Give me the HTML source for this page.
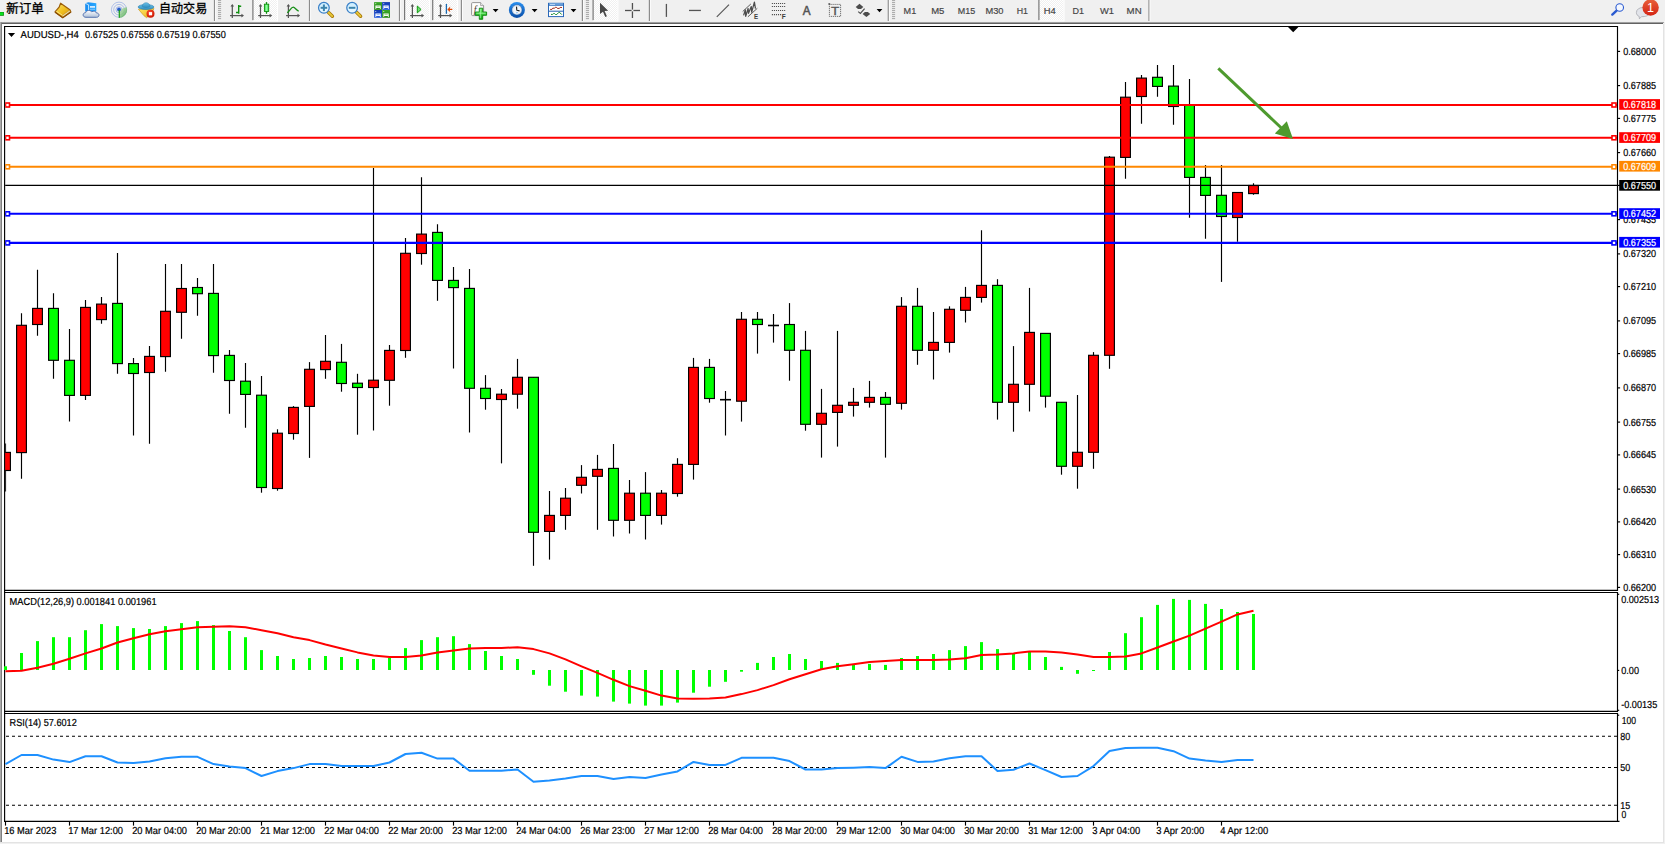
<!DOCTYPE html>
<html lang="zh"><head><meta charset="utf-8"><title>AUDUSD H4</title>
<style>html,body{margin:0;padding:0;background:#f0f0f0;overflow:hidden}svg text{white-space:pre}</style></head>
<body>
<svg width="1665" height="844" viewBox="0 0 1665 844" font-family="Liberation Sans, sans-serif" style="display:block">
<defs>
<linearGradient id="gGold" x1="0" y1="0" x2="1" y2="1"><stop offset="0" stop-color="#fbe36a"/><stop offset="0.5" stop-color="#f0c020"/><stop offset="1" stop-color="#d08a10"/></linearGradient>
<linearGradient id="gCloud" x1="0" y1="0" x2="0" y2="1"><stop offset="0" stop-color="#ffffff"/><stop offset="1" stop-color="#aebfd8"/></linearGradient>
<linearGradient id="gBox" x1="0" y1="0" x2="1" y2="0"><stop offset="0" stop-color="#1a8cf0"/><stop offset="1" stop-color="#28a8ff"/></linearGradient>
<linearGradient id="gHat" x1="0" y1="0" x2="0" y2="1"><stop offset="0" stop-color="#6cc0e8"/><stop offset="1" stop-color="#2f8fc0"/></linearGradient>
<linearGradient id="gFace" x1="0" y1="0" x2="1" y2="1"><stop offset="0" stop-color="#ffe860"/><stop offset="1" stop-color="#e8b020"/></linearGradient>
<radialGradient id="gRed" cx="0.4" cy="0.35" r="0.7"><stop offset="0" stop-color="#ff5030"/><stop offset="1" stop-color="#c81400"/></radialGradient>
<linearGradient id="gBadge" x1="0" y1="0" x2="0" y2="1"><stop offset="0" stop-color="#e8603a"/><stop offset="1" stop-color="#d42414"/></linearGradient>
<linearGradient id="gLens" x1="0" y1="0" x2="0" y2="1"><stop offset="0" stop-color="#c8ecff"/><stop offset="1" stop-color="#eefaff"/></linearGradient>
<linearGradient id="gClock" x1="0" y1="0" x2="0" y2="1"><stop offset="0" stop-color="#2a90f0"/><stop offset="1" stop-color="#0a4ea8"/></linearGradient>
<linearGradient id="gCandle" x1="0" y1="0" x2="1" y2="0"><stop offset="0" stop-color="#30d840"/><stop offset="0.5" stop-color="#90ffa0"/><stop offset="1" stop-color="#30d840"/></linearGradient>
<linearGradient id="gPlus" x1="0" y1="0" x2="0" y2="1"><stop offset="0" stop-color="#70f070"/><stop offset="1" stop-color="#10a810"/></linearGradient>
<linearGradient id="gSig" x1="0" y1="0" x2="1" y2="1"><stop offset="0" stop-color="#d8ecd0"/><stop offset="1" stop-color="#30a030"/></linearGradient>
<linearGradient id="gTpl" x1="0" y1="0" x2="0" y2="1"><stop offset="0" stop-color="#8cc0f0"/><stop offset="1" stop-color="#2a68b8"/></linearGradient>
<linearGradient id="gGreenT" x1="0" y1="0" x2="0" y2="1"><stop offset="0" stop-color="#3aa828"/><stop offset="1" stop-color="#2a8a18"/></linearGradient>
<linearGradient id="gBlueT" x1="0" y1="0" x2="0" y2="1"><stop offset="0" stop-color="#1038b0"/><stop offset="1" stop-color="#2a60e0"/></linearGradient>
<pattern id="chk" width="2" height="2" patternUnits="userSpaceOnUse"><rect width="2" height="2" fill="#f0f0f0"/><rect width="1" height="1" fill="#fff"/><rect x="1" y="1" width="1" height="1" fill="#fff"/></pattern>
</defs>
<rect width="1665" height="844" fill="#f0f0f0"/>
<rect x="2" y="24" width="1661" height="818" fill="#fff"/>
<rect x="0" y="20.9" width="1665" height="1" fill="#f9f9f9"/>
<rect x="0" y="21.9" width="1664" height="1.1" fill="#a6a6a6"/>
<rect x="0" y="22.9" width="1663" height="1.1" fill="#626262"/>
<rect x="0" y="22" width="1.05" height="820.4" fill="#aaaaaa"/>
<rect x="1.05" y="22.6" width="0.95" height="819.6" fill="#7a7a7a"/>
<rect x="0" y="842.4" width="2" height="1.6" fill="#f0f0f0"/>
<rect x="1663" y="24" width="1" height="819" fill="#e3e3e3"/>
<rect x="2" y="842" width="1662" height="1" fill="#e3e3e3"/>
<rect x="-1" y="12" width="4.9" height="3.8" fill="#0a8a0a"/><rect x="-1" y="12.4" width="4.2" height="2.7" fill="#08e020"/>
<text x="6.3" y="13.3" font-size="12.3" fill="#000" stroke="#000" stroke-width="0.3" font-family="Liberation Sans, Noto Sans CJK SC, sans-serif" textLength="37.6" lengthAdjust="spacingAndGlyphs">新订单</text>
<path d="M60.6 3.2 L69.9 9.7 L70.9 11.9 L62.7 17.7 L55 11.9 L59.1 7.2 Z" fill="url(#gGold)" stroke="#9c5e08" stroke-width="1.2" stroke-linejoin="round"/>
<path d="M62.9 16.9 L70.3 11.6 L69.6 10.3 L62.3 15.4 Z" fill="#efe2b0" stroke="#b07818" stroke-width="0.4"/>
<path d="M56.4 11.3 L62.6 15.3" stroke="#fff0a0" stroke-width="0.9" fill="none" opacity="0.8"/><path d="M55.2 12.2 L62.7 17.6 L70.8 12" stroke="#8a4c04" stroke-width="1.1" fill="none"/>
<path d="M85.2 3.3 L88.3 2.2 L96.3 3.2 L96.3 11.5 L85.2 11.5 Z" fill="url(#gBox)"/>
<path d="M85.2 3.3 L88.6 4.8 L88.6 11.5" fill="none" stroke="#d8f0ff" stroke-width="0.9"/>
<rect x="90" y="6.1" width="5" height="1.6" fill="#e8f6ff"/><rect x="90" y="8.8" width="5" height="0.8" fill="#9cd4ff"/>
<path d="M86 17.3 C82.2 17.3 82.2 12.8 85.7 12.6 C86.2 10.2 90.2 9.6 91.6 11.8 C93.4 10.6 96.2 11.2 96.4 13 C99.8 12.8 99.8 17.3 96.6 17.3 Z" fill="url(#gCloud)" stroke="#4a68a8" stroke-width="0.9"/>
<g fill="none" stroke="#3a6ad8"><circle cx="119" cy="9.7" r="7.6" stroke-width="0.9" opacity="0.4"/><circle cx="119" cy="9.7" r="5.3" stroke-width="0.9" opacity="0.4"/><circle cx="119" cy="9.7" r="3" stroke-width="0.9" opacity="0.45"/></g>
<path d="M119 9.7 L119 17.8 A8.1 8.1 0 0 0 126.6 6.9 Z" fill="url(#gSig)" opacity="0.8"/>
<circle cx="119" cy="9.5" r="1.9" fill="#2858d0"/><rect x="118.7" y="9.8" width="1.2" height="8" fill="#18a018"/>
<path d="M138.4 9.2 L154 8.6 L151 14 L146.6 17.7 L144 15.8 Z" fill="url(#gFace)" stroke="#c89010" stroke-width="0.6"/>
<ellipse cx="146" cy="7" rx="7.9" ry="2.5" fill="url(#gHat)" stroke="#2a80b0" stroke-width="0.6"/>
<path d="M142.2 6.6 C142.4 1.4 149.8 1.4 150 6.6 C148 7.8 144.2 7.8 142.2 6.6 Z" fill="url(#gHat)" stroke="#2a80b0" stroke-width="0.5"/>
<circle cx="150.5" cy="13.7" r="4" fill="url(#gRed)"/><rect x="148.9" y="12.1" width="3.2" height="3.2" fill="#fff"/>
<text x="159" y="13.3" font-size="12.3" fill="#000" stroke="#000" stroke-width="0.3" font-family="Liberation Sans, Noto Sans CJK SC, sans-serif" textLength="48.2" lengthAdjust="spacingAndGlyphs">自动交易</text>
<rect x="213.9" y="0" width="1.2" height="21" fill="#8c8c8c"/>
<rect x="215.1" y="0" width="1" height="21" fill="#fbfbfb"/>
<rect x="218.0" y="0.1" width="3.1" height="1" fill="#a6a6a6"/>
<rect x="218.0" y="2.1" width="3.1" height="1" fill="#a6a6a6"/>
<rect x="218.0" y="4.1" width="3.1" height="1" fill="#a6a6a6"/>
<rect x="218.0" y="6.1" width="3.1" height="1" fill="#a6a6a6"/>
<rect x="218.0" y="8.1" width="3.1" height="1" fill="#a6a6a6"/>
<rect x="218.0" y="10.1" width="3.1" height="1" fill="#a6a6a6"/>
<rect x="218.0" y="12.1" width="3.1" height="1" fill="#a6a6a6"/>
<rect x="218.0" y="14.1" width="3.1" height="1" fill="#a6a6a6"/>
<rect x="218.0" y="16.1" width="3.1" height="1" fill="#a6a6a6"/>
<rect x="218.0" y="18.1" width="3.1" height="1" fill="#a6a6a6"/>
<g stroke="#555" stroke-width="1.25" fill="none"><line x1="232.3" y1="5" x2="232.3" y2="18"/><line x1="230.0" y1="15.6" x2="242.9" y2="15.6"/></g>
<path d="M232.3 3.9 L234.10000000000002 6.5 L230.5 6.5 Z M244.0 15.6 L241.4 13.8 L241.4 17.4 Z" fill="#555"/>
<path d="M238.7 5.1 V13.8 M236 12.5 H238.7 M238.7 6.3 H241.2" stroke="#109010" stroke-width="1.4" fill="none"/>
<rect x="253.2" y="0" width="23.80000000000001" height="20.4" fill="url(#chk)"/>
<rect x="252.29999999999998" y="0" width="1.2" height="20.4" fill="#787878"/>
<rect x="252.29999999999998" y="20.4" width="25.600000000000012" height="1" fill="#fff"/>
<rect x="277" y="0" width="1" height="21" fill="#fff"/>
<g stroke="#555" stroke-width="1.25" fill="none"><line x1="260.5" y1="5" x2="260.5" y2="18"/><line x1="258.2" y1="15.6" x2="271.1" y2="15.6"/></g>
<path d="M260.5 3.9 L262.3 6.5 L258.7 6.5 Z M272.2 15.6 L269.6 13.8 L269.6 17.4 Z" fill="#555"/>
<line x1="266.5" y1="2.1" x2="266.5" y2="13.8" stroke="#109010" stroke-width="1.3"/>
<rect x="264.4" y="4.2" width="4.3" height="7.3" fill="url(#gCandle)" stroke="#109010" stroke-width="0.9"/>
<g stroke="#555" stroke-width="1.25" fill="none"><line x1="288.4" y1="5" x2="288.4" y2="18"/><line x1="286.09999999999997" y1="15.6" x2="299.0" y2="15.6"/></g>
<path d="M288.4 3.9 L290.2 6.5 L286.59999999999997 6.5 Z M300.09999999999997 15.6 L297.5 13.8 L297.5 17.4 Z" fill="#555"/>
<path d="M287.2 12.7 C290 11 291 7.2 293.2 7.2 C295 7.2 296.4 10.4 298.7 11.1" stroke="#189018" stroke-width="1.3" fill="none"/>
<rect x="308.9" y="0" width="1.2" height="21" fill="#8c8c8c"/>
<rect x="310.1" y="0" width="1" height="21" fill="#fbfbfb"/>
<line x1="328.29999999999995" y1="12.2" x2="332.4" y2="16.3" stroke="#a87808" stroke-width="3.4" stroke-linecap="round"/>
<line x1="328.5" y1="12.4" x2="332.2" y2="16.1" stroke="#e8c838" stroke-width="2" stroke-linecap="round"/>
<circle cx="323.9" cy="7.8" r="5.35" fill="url(#gLens)" stroke="#3a80c8" stroke-width="1.25"/>
<rect x="320.59999999999997" y="6.8" width="6.6" height="2" fill="#3c84ac"/>
<rect x="322.9" y="4.5" width="2" height="6.6" fill="#3c84ac"/>
<line x1="356.5" y1="12.2" x2="360.6" y2="16.3" stroke="#a87808" stroke-width="3.4" stroke-linecap="round"/>
<line x1="356.70000000000005" y1="12.4" x2="360.40000000000003" y2="16.1" stroke="#e8c838" stroke-width="2" stroke-linecap="round"/>
<circle cx="352.1" cy="7.8" r="5.35" fill="url(#gLens)" stroke="#3a80c8" stroke-width="1.25"/>
<rect x="348.8" y="6.8" width="6.6" height="2" fill="#3c84ac"/>
<rect x="374.1" y="2.1" width="7.9" height="7.8" fill="url(#gGreenT)"/>
<path d="M375.40000000000003 5.5 H380.70000000000005 V9.0 H379.90000000000003 V8.1 H376.20000000000005 V9.0 H375.40000000000003 Z" fill="#fff"/>
<rect x="376.5" y="6.4" width="3.2" height="0.8" fill="#8cd070"/>
<rect x="375.3" y="3.2" width="0.9" height="0.9" fill="#fff" opacity="0.9"/>
<rect x="382.1" y="2.1" width="7.9" height="7.8" fill="url(#gBlueT)"/>
<path d="M383.40000000000003 5.5 H388.70000000000005 V9.0 H387.90000000000003 V8.1 H384.20000000000005 V9.0 H383.40000000000003 Z" fill="#fff"/>
<rect x="384.5" y="6.4" width="3.2" height="0.8" fill="#88a8f0"/>
<rect x="383.3" y="3.2" width="0.9" height="0.9" fill="#fff" opacity="0.9"/>
<rect x="374.1" y="10" width="7.9" height="7.8" fill="url(#gBlueT)"/>
<path d="M375.40000000000003 13.4 H380.70000000000005 V16.9 H379.90000000000003 V16 H376.20000000000005 V16.9 H375.40000000000003 Z" fill="#fff"/>
<rect x="376.5" y="14.3" width="3.2" height="0.8" fill="#88a8f0"/>
<rect x="375.3" y="11.1" width="0.9" height="0.9" fill="#fff" opacity="0.9"/>
<rect x="382.1" y="10" width="7.9" height="7.8" fill="url(#gGreenT)"/>
<path d="M383.40000000000003 13.4 H388.70000000000005 V16.9 H387.90000000000003 V16 H384.20000000000005 V16.9 H383.40000000000003 Z" fill="#fff"/>
<rect x="384.5" y="14.3" width="3.2" height="0.8" fill="#8cd070"/>
<rect x="383.3" y="11.1" width="0.9" height="0.9" fill="#fff" opacity="0.9"/>
<rect x="398.9" y="0" width="1.2" height="21" fill="#8c8c8c"/>
<rect x="400.1" y="0" width="1" height="21" fill="#fbfbfb"/>
<rect x="404.9" y="0" width="24.100000000000023" height="20.4" fill="url(#chk)"/>
<rect x="404.0" y="0" width="1.2" height="20.4" fill="#787878"/>
<rect x="404.0" y="20.4" width="25.900000000000023" height="1" fill="#fff"/>
<rect x="429" y="0" width="1" height="21" fill="#fff"/>
<g stroke="#555" stroke-width="1.25" fill="none"><line x1="412.4" y1="5" x2="412.4" y2="18"/><line x1="410.09999999999997" y1="15.6" x2="423.0" y2="15.6"/></g>
<path d="M412.4 3.9 L414.2 6.5 L410.59999999999997 6.5 Z M424.09999999999997 15.6 L421.5 13.8 L421.5 17.4 Z" fill="#555"/>
<path d="M417.3 6 L417.3 12.9 L421.1 9.5 Z" fill="#70e070" stroke="#109810" stroke-width="1"/>
<rect x="433" y="0" width="24" height="20.4" fill="url(#chk)"/>
<rect x="432.1" y="0" width="1.2" height="20.4" fill="#787878"/>
<rect x="432.1" y="20.4" width="25.8" height="1" fill="#fff"/>
<rect x="457" y="0" width="1" height="21" fill="#fff"/>
<g stroke="#555" stroke-width="1.25" fill="none"><line x1="440.5" y1="5" x2="440.5" y2="18"/><line x1="438.2" y1="15.6" x2="451.1" y2="15.6"/></g>
<path d="M440.5 3.9 L442.3 6.5 L438.7 6.5 Z M452.2 15.6 L449.6 13.8 L449.6 17.4 Z" fill="#555"/>
<line x1="446.4" y1="3.9" x2="446.4" y2="13.8" stroke="#1a6ab0" stroke-width="1.3"/>
<path d="M447.3 9.4 L450.3 6.6 L449.8 8.8 L452.3 8.8 L452.3 10 L449.8 10 L450.3 12.2 Z" fill="#e04800"/>
<rect x="460.8" y="0" width="1.2" height="21" fill="#8c8c8c"/>
<rect x="462.0" y="0" width="1" height="21" fill="#fbfbfb"/>
<path d="M472.6 2.6 H480.6 L483.6 5.6 V14.6 Q483.6 15.6 482.6 15.6 H472.6 Q471.6 15.6 471.6 14.6 V3.6 Q471.6 2.6 472.6 2.6 Z" fill="#fdfdfd" stroke="#8a8a8a" stroke-width="0.9"/>
<path d="M480.6 2.6 V5.6 H483.6" fill="#e8e8e8" stroke="#8a8a8a" stroke-width="0.7"/>
<text x="473.8" y="13" font-size="10" font-style="italic" fill="#4a4030" font-family="Liberation Serif, serif">f</text>
<path d="M479.3 8.2 H482.7 V12 H486.6 V15.3 H482.7 V19.3 H479.3 V15.3 H475.3 V12 H479.3 Z" fill="url(#gPlus)" stroke="#0a860a" stroke-width="0.9"/><path d="M480.3 9.2 V18.2 M476.4 13.2 H485.6" stroke="#b8ffb8" stroke-width="0.9" opacity="0.75" fill="none"/>
<path d="M492.70000000000005 9 L498.5 9 L495.6 12.3 Z" fill="#000"/>
<circle cx="516.9" cy="9.9" r="8" fill="url(#gClock)"/><circle cx="516.9" cy="9.9" r="5.1" fill="#f2f6fb" stroke="#0c4a98" stroke-width="0.5"/>
<circle cx="516.90" cy="5.80" r="0.33" fill="#8c9cb0"/>
<circle cx="518.95" cy="6.35" r="0.33" fill="#8c9cb0"/>
<circle cx="520.45" cy="7.85" r="0.33" fill="#8c9cb0"/>
<circle cx="521.00" cy="9.90" r="0.33" fill="#8c9cb0"/>
<circle cx="520.45" cy="11.95" r="0.33" fill="#8c9cb0"/>
<circle cx="518.95" cy="13.45" r="0.33" fill="#8c9cb0"/>
<circle cx="516.90" cy="14.00" r="0.33" fill="#8c9cb0"/>
<circle cx="514.85" cy="13.45" r="0.33" fill="#8c9cb0"/>
<circle cx="513.35" cy="11.95" r="0.33" fill="#8c9cb0"/>
<circle cx="512.80" cy="9.90" r="0.33" fill="#8c9cb0"/>
<circle cx="513.35" cy="7.85" r="0.33" fill="#8c9cb0"/>
<circle cx="514.85" cy="6.35" r="0.33" fill="#8c9cb0"/>
<path d="M516.5 6.6 L516.8 10.3 L519.6 10.9" stroke="#202020" stroke-width="1.15" fill="none" stroke-linejoin="round"/>
<rect x="515.9" y="12.4" width="2" height="0.8" fill="#6ab0f0"/>
<path d="M531.7 9 L537.5 9 L534.6 12.3 Z" fill="#000"/>
<rect x="548.5" y="3.3" width="15" height="13.3" fill="#fff" stroke="#2a68b8" stroke-width="1"/>
<rect x="549" y="3.6" width="14" height="2.2" fill="url(#gTpl)"/><rect x="550" y="4" width="5" height="0.7" fill="#d8ecff"/>
<line x1="549" y1="11.2" x2="563" y2="11.2" stroke="#2460b0" stroke-width="1"/>
<path d="M550.2 9.4 H551.9 L552.8 8.2 H554.4 L555.3 7.4 H556.6 L557.4 8.4 H559.2 L560.2 7.5 H561.9" stroke="#a02010" stroke-width="1" fill="none"/>
<path d="M551 14.4 H552.6 L553.5 13.6 H554.6 L555.5 14.5 H556.8 L558.8 12.4 H559.6 L561.8 14.6" stroke="#108828" stroke-width="1" fill="none"/>
<path d="M570.6 9 L576.4 9 L573.5 12.3 Z" fill="#000"/>
<rect x="581.8" y="0" width="1.2" height="21" fill="#8c8c8c"/>
<rect x="583.0" y="0" width="1" height="21" fill="#fbfbfb"/>
<rect x="585.9" y="0.1" width="3.1" height="1" fill="#a6a6a6"/>
<rect x="585.9" y="2.1" width="3.1" height="1" fill="#a6a6a6"/>
<rect x="585.9" y="4.1" width="3.1" height="1" fill="#a6a6a6"/>
<rect x="585.9" y="6.1" width="3.1" height="1" fill="#a6a6a6"/>
<rect x="585.9" y="8.1" width="3.1" height="1" fill="#a6a6a6"/>
<rect x="585.9" y="10.1" width="3.1" height="1" fill="#a6a6a6"/>
<rect x="585.9" y="12.1" width="3.1" height="1" fill="#a6a6a6"/>
<rect x="585.9" y="14.1" width="3.1" height="1" fill="#a6a6a6"/>
<rect x="585.9" y="16.1" width="3.1" height="1" fill="#a6a6a6"/>
<rect x="585.9" y="18.1" width="3.1" height="1" fill="#a6a6a6"/>
<rect x="593.4" y="0" width="24.0" height="20.4" fill="url(#chk)"/>
<rect x="592.5" y="0" width="1.2" height="20.4" fill="#787878"/>
<rect x="592.5" y="20.4" width="25.8" height="1" fill="#fff"/>
<rect x="617.4" y="0" width="1" height="21" fill="#fff"/>
<path d="M600 2.7 L600 14.1 L603 11.7 L605.3 17.1 L606.9 16.3 L604.6 10.9 L608.2 10.8 Z" fill="#484848"/>
<g stroke="#505050" stroke-width="1.3"><line x1="625" y1="10.5" x2="631.6" y2="10.5"/><line x1="633.4" y1="10.5" x2="640" y2="10.5"/><line x1="632.45" y1="3" x2="632.45" y2="9.6"/><line x1="632.45" y1="11.4" x2="632.45" y2="18"/></g>
<rect x="648.8" y="0" width="1.2" height="21" fill="#8c8c8c"/>
<rect x="650.0" y="0" width="1" height="21" fill="#fbfbfb"/>
<line x1="666.4" y1="3.9" x2="666.4" y2="16.9" stroke="#555" stroke-width="1.3"/>
<line x1="689" y1="10.45" x2="700.9" y2="10.45" stroke="#555" stroke-width="1.3"/>
<line x1="716.8" y1="16.9" x2="729" y2="4.7" stroke="#555" stroke-width="1.15"/>
<g stroke="#4c4c4c" fill="none"><line x1="742.7" y1="11.5" x2="750.8" y2="4" stroke-width="0.9"/><line x1="747.9" y1="16.8" x2="757.3" y2="8.3" stroke-width="0.9"/><path d="M743.6 15.4 L745.3 9.9 L745.7 16.3 L748.1 8.5 L748.5 13.3 L751.3 6.6 L751.7 12.2 L754.4 2.2 L755.5 8.6" stroke-width="1.25" stroke-linejoin="round"/></g>
<text x="753.9" y="18.7" font-size="6.4" font-weight="bold" fill="#3c3c3c" textLength="4.1" lengthAdjust="spacingAndGlyphs">E</text>
<line x1="771.85" y1="3.5" x2="785.3" y2="3.5" stroke="#4c4c4c" stroke-width="1.1" stroke-dasharray="1.1 0.94"/>
<line x1="771.85" y1="6.5" x2="785.3" y2="6.5" stroke="#4c4c4c" stroke-width="1.1" stroke-dasharray="1.1 0.94"/>
<line x1="771.85" y1="10.5" x2="785.3" y2="10.5" stroke="#4c4c4c" stroke-width="1.1" stroke-dasharray="1.1 0.94"/>
<line x1="771.85" y1="14.6" x2="781.2" y2="14.6" stroke="#4c4c4c" stroke-width="1.1" stroke-dasharray="1.1 0.94"/>
<text x="781.8" y="18.7" font-size="6.4" font-weight="bold" fill="#3c3c3c" textLength="4" lengthAdjust="spacingAndGlyphs">F</text>
<text x="802.8" y="15" font-size="12.4" fill="#555" stroke="#555" stroke-width="0.55" textLength="7.8" lengthAdjust="spacingAndGlyphs">A</text>
<rect x="829.4" y="4.4" width="11.2" height="12" fill="none" stroke="#555" stroke-width="1" stroke-dasharray="1 1"/>
<rect x="828.4" y="3.2" width="1.8" height="1.6" fill="#555"/>
<text x="830.9" y="14.8" font-size="11.2" fill="#555" textLength="8.2" lengthAdjust="spacingAndGlyphs" stroke="#555" stroke-width="0.3">T</text>
<path d="M859.5 3.8 L863.3 7 L861 9 L858 9 L855.7 7 Z" fill="#4c4c4c"/>
<path d="M866.4 17.1 L862.6 13.9 L864.9 11.9 L867.9 11.9 L870.2 13.9 Z" fill="#4c4c4c"/>
<path d="M858.2 11.6 L860.4 13.4 L864.6 8.6" fill="none" stroke="#505050" stroke-width="1.2"/>
<path d="M876.6 9 L882.4 9 L879.5 12.3 Z" fill="#000"/>
<rect x="887.7" y="0" width="1.2" height="21" fill="#8c8c8c"/>
<rect x="888.9" y="0" width="1" height="21" fill="#fbfbfb"/>
<rect x="892.0" y="0.1" width="3.1" height="1" fill="#a6a6a6"/>
<rect x="892.0" y="2.1" width="3.1" height="1" fill="#a6a6a6"/>
<rect x="892.0" y="4.1" width="3.1" height="1" fill="#a6a6a6"/>
<rect x="892.0" y="6.1" width="3.1" height="1" fill="#a6a6a6"/>
<rect x="892.0" y="8.1" width="3.1" height="1" fill="#a6a6a6"/>
<rect x="892.0" y="10.1" width="3.1" height="1" fill="#a6a6a6"/>
<rect x="892.0" y="12.1" width="3.1" height="1" fill="#a6a6a6"/>
<rect x="892.0" y="14.1" width="3.1" height="1" fill="#a6a6a6"/>
<rect x="892.0" y="16.1" width="3.1" height="1" fill="#a6a6a6"/>
<rect x="892.0" y="18.1" width="3.1" height="1" fill="#a6a6a6"/>
<rect x="1039.2" y="0" width="24.299999999999955" height="20.4" fill="url(#chk)"/>
<rect x="1038.3" y="0" width="1.2" height="20.4" fill="#787878"/>
<rect x="1038.3" y="20.4" width="26.099999999999955" height="1" fill="#fff"/>
<rect x="1063.5" y="0" width="1" height="21" fill="#fff"/>
<text x="903.6" y="13.5" font-size="9.6" fill="#454545" stroke="#454545" stroke-width="0.18" textLength="12.6" lengthAdjust="spacingAndGlyphs">M1</text>
<text x="931.2" y="13.5" font-size="9.6" fill="#454545" stroke="#454545" stroke-width="0.18" textLength="13.2" lengthAdjust="spacingAndGlyphs">M5</text>
<text x="957.8" y="13.5" font-size="9.6" fill="#454545" stroke="#454545" stroke-width="0.18" textLength="17.4" lengthAdjust="spacingAndGlyphs">M15</text>
<text x="985.4" y="13.5" font-size="9.6" fill="#454545" stroke="#454545" stroke-width="0.18" textLength="18.1" lengthAdjust="spacingAndGlyphs">M30</text>
<text x="1016.7" y="13.5" font-size="9.6" fill="#454545" stroke="#454545" stroke-width="0.18" textLength="11.3" lengthAdjust="spacingAndGlyphs">H1</text>
<text x="1043.7" y="13.5" font-size="9.6" fill="#454545" stroke="#454545" stroke-width="0.18" textLength="12" lengthAdjust="spacingAndGlyphs">H4</text>
<text x="1072.5" y="13.5" font-size="9.6" fill="#454545" stroke="#454545" stroke-width="0.18" textLength="11.5" lengthAdjust="spacingAndGlyphs">D1</text>
<text x="1100" y="13.5" font-size="9.6" fill="#454545" stroke="#454545" stroke-width="0.18" textLength="14" lengthAdjust="spacingAndGlyphs">W1</text>
<text x="1126.6" y="13.5" font-size="9.6" fill="#454545" stroke="#454545" stroke-width="0.18" textLength="15" lengthAdjust="spacingAndGlyphs">MN</text>
<rect x="1148.4" y="0" width="1.2" height="21" fill="#8c8c8c"/>
<rect x="1149.6" y="0" width="1" height="21" fill="#fbfbfb"/>
<line x1="1616.6" y1="10.6" x2="1612.3" y2="14.6" stroke="#2a5ad0" stroke-width="2.4" stroke-linecap="round"/>
<circle cx="1619.7" cy="7.5" r="3.8" fill="#f4f8ff" stroke="#2a5ad0" stroke-width="1.1"/>
<path d="M1636.4 12.6 C1636.4 5.8 1649.4 5.8 1649.4 12.6 C1649.4 16 1645 16.8 1641.6 16.6 L1639.4 18.8 L1639.2 16.4 C1637.4 15.8 1636.4 14.4 1636.4 12.6 Z" fill="#e2e4ea" stroke="#a8aab0" stroke-width="0.8"/>
<circle cx="1650.6" cy="7.5" r="8.2" fill="url(#gBadge)"/>
<text x="1650.4" y="11.8" font-size="12.5" fill="#fff" text-anchor="middle">1</text>
<g stroke="#000" stroke-width="1.15" fill="none">
<line x1="4" y1="26.5" x2="1618" y2="26.5"/>
<line x1="4.6" y1="26" x2="4.6" y2="822"/>
<line x1="1617.5" y1="26" x2="1617.5" y2="590.9"/>
<line x1="1617.5" y1="592.1" x2="1617.5" y2="711.7"/>
<line x1="1617.5" y1="712.9" x2="1617.5" y2="822"/>
<line x1="4" y1="590.35" x2="1618" y2="590.35"/>
<line x1="4" y1="592.5" x2="1618" y2="592.5"/>
<line x1="4" y1="711.3" x2="1618" y2="711.3"/>
<line x1="4" y1="713.5" x2="1618" y2="713.5"/>
<line x1="4" y1="821.4" x2="1619.5" y2="821.4"/>
</g>
<path d="M1288 27 L1298.4 27 L1293.2 32.2 Z" fill="#000"/>
<line x1="1617" y1="51.4" x2="1620.1" y2="51.4" stroke="#000" stroke-width="1.15"/>
<text x="1623.2" y="55" font-size="10.2" fill="#000" stroke="#000" stroke-width="0.2" text-rendering="geometricPrecision" textLength="32.9" lengthAdjust="spacingAndGlyphs" >0.68000</text>
<line x1="1617" y1="85.6" x2="1620.1" y2="85.6" stroke="#000" stroke-width="1.15"/>
<text x="1623.2" y="89" font-size="10.2" fill="#000" stroke="#000" stroke-width="0.2" text-rendering="geometricPrecision" textLength="32.9" lengthAdjust="spacingAndGlyphs" >0.67885</text>
<line x1="1617" y1="118.4" x2="1620.1" y2="118.4" stroke="#000" stroke-width="1.15"/>
<text x="1623.2" y="122" font-size="10.2" fill="#000" stroke="#000" stroke-width="0.2" text-rendering="geometricPrecision" textLength="32.9" lengthAdjust="spacingAndGlyphs" >0.67775</text>
<line x1="1617" y1="152.6" x2="1620.1" y2="152.6" stroke="#000" stroke-width="1.15"/>
<text x="1623.2" y="156" font-size="10.2" fill="#000" stroke="#000" stroke-width="0.2" text-rendering="geometricPrecision" textLength="32.9" lengthAdjust="spacingAndGlyphs" >0.67660</text>
<line x1="1617" y1="185.4" x2="1620.1" y2="185.4" stroke="#000" stroke-width="1.15"/>
<text x="1623.2" y="189" font-size="10.2" fill="#000" stroke="#000" stroke-width="0.2" text-rendering="geometricPrecision" textLength="32.9" lengthAdjust="spacingAndGlyphs" >0.67550</text>
<line x1="1617" y1="219.6" x2="1620.1" y2="219.6" stroke="#000" stroke-width="1.15"/>
<text x="1623.2" y="223" font-size="10.2" fill="#000" stroke="#000" stroke-width="0.2" text-rendering="geometricPrecision" textLength="32.9" lengthAdjust="spacingAndGlyphs" >0.67435</text>
<line x1="1617" y1="253.9" x2="1620.1" y2="253.9" stroke="#000" stroke-width="1.15"/>
<text x="1623.2" y="257" font-size="10.2" fill="#000" stroke="#000" stroke-width="0.2" text-rendering="geometricPrecision" textLength="32.9" lengthAdjust="spacingAndGlyphs" >0.67320</text>
<line x1="1617" y1="286.6" x2="1620.1" y2="286.6" stroke="#000" stroke-width="1.15"/>
<text x="1623.2" y="290" font-size="10.2" fill="#000" stroke="#000" stroke-width="0.2" text-rendering="geometricPrecision" textLength="32.9" lengthAdjust="spacingAndGlyphs" >0.67210</text>
<line x1="1617" y1="320.9" x2="1620.1" y2="320.9" stroke="#000" stroke-width="1.15"/>
<text x="1623.2" y="324" font-size="10.2" fill="#000" stroke="#000" stroke-width="0.2" text-rendering="geometricPrecision" textLength="32.9" lengthAdjust="spacingAndGlyphs" >0.67095</text>
<line x1="1617" y1="353.6" x2="1620.1" y2="353.6" stroke="#000" stroke-width="1.15"/>
<text x="1623.2" y="357" font-size="10.2" fill="#000" stroke="#000" stroke-width="0.2" text-rendering="geometricPrecision" textLength="32.9" lengthAdjust="spacingAndGlyphs" >0.66985</text>
<line x1="1617" y1="387.9" x2="1620.1" y2="387.9" stroke="#000" stroke-width="1.15"/>
<text x="1623.2" y="391" font-size="10.2" fill="#000" stroke="#000" stroke-width="0.2" text-rendering="geometricPrecision" textLength="32.9" lengthAdjust="spacingAndGlyphs" >0.66870</text>
<line x1="1617" y1="422.1" x2="1620.1" y2="422.1" stroke="#000" stroke-width="1.15"/>
<text x="1623.2" y="426" font-size="10.2" fill="#000" stroke="#000" stroke-width="0.2" text-rendering="geometricPrecision" textLength="32.9" lengthAdjust="spacingAndGlyphs" >0.66755</text>
<line x1="1617" y1="454.9" x2="1620.1" y2="454.9" stroke="#000" stroke-width="1.15"/>
<text x="1623.2" y="458" font-size="10.2" fill="#000" stroke="#000" stroke-width="0.2" text-rendering="geometricPrecision" textLength="32.9" lengthAdjust="spacingAndGlyphs" >0.66645</text>
<line x1="1617" y1="489.1" x2="1620.1" y2="489.1" stroke="#000" stroke-width="1.15"/>
<text x="1623.2" y="493" font-size="10.2" fill="#000" stroke="#000" stroke-width="0.2" text-rendering="geometricPrecision" textLength="32.9" lengthAdjust="spacingAndGlyphs" >0.66530</text>
<line x1="1617" y1="521.9" x2="1620.1" y2="521.9" stroke="#000" stroke-width="1.15"/>
<text x="1623.2" y="525" font-size="10.2" fill="#000" stroke="#000" stroke-width="0.2" text-rendering="geometricPrecision" textLength="32.9" lengthAdjust="spacingAndGlyphs" >0.66420</text>
<line x1="1617" y1="554.6" x2="1620.1" y2="554.6" stroke="#000" stroke-width="1.15"/>
<text x="1623.2" y="558" font-size="10.2" fill="#000" stroke="#000" stroke-width="0.2" text-rendering="geometricPrecision" textLength="32.9" lengthAdjust="spacingAndGlyphs" >0.66310</text>
<line x1="1617" y1="587.4" x2="1620.1" y2="587.4" stroke="#000" stroke-width="1.15"/>
<text x="1623.2" y="591" font-size="10.2" fill="#000" stroke="#000" stroke-width="0.2" text-rendering="geometricPrecision" textLength="32.9" lengthAdjust="spacingAndGlyphs" >0.66200</text>
<clipPath id="cm"><rect x="5.2" y="27" width="1612" height="563"/></clipPath>
<g clip-path="url(#cm)">
<line x1="5.5" y1="443.4" x2="5.5" y2="491.4" stroke="#000" stroke-width="1.15"/>
<rect x="0.6" y="452.4" width="9.8" height="18.1" fill="#ff0000" stroke="#000" stroke-width="1.15"/>
<line x1="21.5" y1="313.3" x2="21.5" y2="478.8" stroke="#000" stroke-width="1.15"/>
<rect x="16.6" y="325.3" width="9.8" height="127.3" fill="#ff0000" stroke="#000" stroke-width="1.15"/>
<line x1="37.5" y1="269.8" x2="37.5" y2="335.7" stroke="#000" stroke-width="1.15"/>
<rect x="32.6" y="308.4" width="9.8" height="16.1" fill="#ff0000" stroke="#000" stroke-width="1.15"/>
<line x1="53.5" y1="293.2" x2="53.5" y2="378.8" stroke="#000" stroke-width="1.15"/>
<rect x="48.6" y="308.4" width="9.8" height="51.9" fill="#00ff00" stroke="#000" stroke-width="1.15"/>
<line x1="69.5" y1="329.0" x2="69.5" y2="421.5" stroke="#000" stroke-width="1.15"/>
<rect x="64.6" y="360.3" width="9.8" height="35.1" fill="#00ff00" stroke="#000" stroke-width="1.15"/>
<line x1="85.5" y1="300.1" x2="85.5" y2="399.9" stroke="#000" stroke-width="1.15"/>
<rect x="80.6" y="307.4" width="9.8" height="88.0" fill="#ff0000" stroke="#000" stroke-width="1.15"/>
<line x1="101.5" y1="296.9" x2="101.5" y2="323.8" stroke="#000" stroke-width="1.15"/>
<rect x="96.6" y="304.1" width="9.8" height="15.5" fill="#ff0000" stroke="#000" stroke-width="1.15"/>
<line x1="117.5" y1="253.1" x2="117.5" y2="373.8" stroke="#000" stroke-width="1.15"/>
<rect x="112.6" y="303.4" width="9.8" height="60.2" fill="#00ff00" stroke="#000" stroke-width="1.15"/>
<line x1="133.5" y1="358.1" x2="133.5" y2="435.5" stroke="#000" stroke-width="1.15"/>
<rect x="128.6" y="363.6" width="9.8" height="9.9" fill="#00ff00" stroke="#000" stroke-width="1.15"/>
<line x1="149.5" y1="345.9" x2="149.5" y2="443.7" stroke="#000" stroke-width="1.15"/>
<rect x="144.6" y="356.4" width="9.8" height="16.1" fill="#ff0000" stroke="#000" stroke-width="1.15"/>
<line x1="165.5" y1="264.1" x2="165.5" y2="371.8" stroke="#000" stroke-width="1.15"/>
<rect x="160.6" y="311.3" width="9.8" height="45.3" fill="#ff0000" stroke="#000" stroke-width="1.15"/>
<line x1="181.5" y1="264.1" x2="181.5" y2="338.7" stroke="#000" stroke-width="1.15"/>
<rect x="176.6" y="288.5" width="9.8" height="23.8" fill="#ff0000" stroke="#000" stroke-width="1.15"/>
<line x1="197.5" y1="278.0" x2="197.5" y2="315.8" stroke="#000" stroke-width="1.15"/>
<rect x="192.6" y="287.5" width="9.8" height="6.2" fill="#00ff00" stroke="#000" stroke-width="1.15"/>
<line x1="213.5" y1="264.1" x2="213.5" y2="372.8" stroke="#000" stroke-width="1.15"/>
<rect x="208.6" y="293.4" width="9.8" height="62.2" fill="#00ff00" stroke="#000" stroke-width="1.15"/>
<line x1="229.5" y1="350.1" x2="229.5" y2="413.8" stroke="#000" stroke-width="1.15"/>
<rect x="224.6" y="355.4" width="9.8" height="25.1" fill="#00ff00" stroke="#000" stroke-width="1.15"/>
<line x1="245.5" y1="363.1" x2="245.5" y2="427.8" stroke="#000" stroke-width="1.15"/>
<rect x="240.6" y="381.2" width="9.8" height="13.2" fill="#00ff00" stroke="#000" stroke-width="1.15"/>
<line x1="261.5" y1="376.0" x2="261.5" y2="492.7" stroke="#000" stroke-width="1.15"/>
<rect x="256.6" y="395.2" width="9.8" height="92.3" fill="#00ff00" stroke="#000" stroke-width="1.15"/>
<line x1="277.5" y1="429.3" x2="277.5" y2="490.7" stroke="#000" stroke-width="1.15"/>
<rect x="272.6" y="433.2" width="9.8" height="55.3" fill="#ff0000" stroke="#000" stroke-width="1.15"/>
<line x1="293.5" y1="406.1" x2="293.5" y2="439.7" stroke="#000" stroke-width="1.15"/>
<rect x="288.6" y="407.4" width="9.8" height="26.1" fill="#ff0000" stroke="#000" stroke-width="1.15"/>
<line x1="309.5" y1="362.1" x2="309.5" y2="457.9" stroke="#000" stroke-width="1.15"/>
<rect x="304.6" y="369.3" width="9.8" height="37.1" fill="#ff0000" stroke="#000" stroke-width="1.15"/>
<line x1="325.5" y1="335.0" x2="325.5" y2="378.8" stroke="#000" stroke-width="1.15"/>
<rect x="320.6" y="361.3" width="9.8" height="8.3" fill="#ff0000" stroke="#000" stroke-width="1.15"/>
<line x1="341.5" y1="343.9" x2="341.5" y2="391.7" stroke="#000" stroke-width="1.15"/>
<rect x="336.6" y="362.3" width="9.8" height="21.2" fill="#00ff00" stroke="#000" stroke-width="1.15"/>
<line x1="357.5" y1="373.8" x2="357.5" y2="434.7" stroke="#000" stroke-width="1.15"/>
<rect x="352.6" y="383.2" width="9.8" height="4.3" fill="#00ff00" stroke="#000" stroke-width="1.15"/>
<line x1="373.5" y1="168.0" x2="373.5" y2="430.5" stroke="#000" stroke-width="1.15"/>
<rect x="368.6" y="380.2" width="9.8" height="7.3" fill="#ff0000" stroke="#000" stroke-width="1.15"/>
<line x1="389.5" y1="345.0" x2="389.5" y2="405.7" stroke="#000" stroke-width="1.15"/>
<rect x="384.6" y="350.4" width="9.8" height="29.9" fill="#ff0000" stroke="#000" stroke-width="1.15"/>
<line x1="405.5" y1="238.1" x2="405.5" y2="357.8" stroke="#000" stroke-width="1.15"/>
<rect x="400.6" y="253.3" width="9.8" height="97.2" fill="#ff0000" stroke="#000" stroke-width="1.15"/>
<line x1="421.5" y1="177.2" x2="421.5" y2="264.7" stroke="#000" stroke-width="1.15"/>
<rect x="416.6" y="234.1" width="9.8" height="19.4" fill="#ff0000" stroke="#000" stroke-width="1.15"/>
<line x1="437.5" y1="224.2" x2="437.5" y2="300.8" stroke="#000" stroke-width="1.15"/>
<rect x="432.6" y="232.4" width="9.8" height="48.0" fill="#00ff00" stroke="#000" stroke-width="1.15"/>
<line x1="453.5" y1="267.0" x2="453.5" y2="368.5" stroke="#000" stroke-width="1.15"/>
<rect x="448.6" y="280.4" width="9.8" height="7.2" fill="#00ff00" stroke="#000" stroke-width="1.15"/>
<line x1="469.5" y1="269.0" x2="469.5" y2="432.5" stroke="#000" stroke-width="1.15"/>
<rect x="464.6" y="288.4" width="9.8" height="99.9" fill="#00ff00" stroke="#000" stroke-width="1.15"/>
<line x1="485.5" y1="375.1" x2="485.5" y2="409.7" stroke="#000" stroke-width="1.15"/>
<rect x="480.6" y="388.3" width="9.8" height="10.2" fill="#00ff00" stroke="#000" stroke-width="1.15"/>
<line x1="501.5" y1="389.0" x2="501.5" y2="463.4" stroke="#000" stroke-width="1.15"/>
<rect x="496.6" y="394.2" width="9.8" height="5.3" fill="#ff0000" stroke="#000" stroke-width="1.15"/>
<line x1="517.5" y1="358.9" x2="517.5" y2="408.7" stroke="#000" stroke-width="1.15"/>
<rect x="512.6" y="377.3" width="9.8" height="16.9" fill="#ff0000" stroke="#000" stroke-width="1.15"/>
<line x1="533.5" y1="377.3" x2="533.5" y2="565.8" stroke="#000" stroke-width="1.15"/>
<rect x="528.6" y="377.3" width="9.8" height="155.0" fill="#00ff00" stroke="#000" stroke-width="1.15"/>
<line x1="549.5" y1="491.0" x2="549.5" y2="559.6" stroke="#000" stroke-width="1.15"/>
<rect x="544.6" y="515.4" width="9.8" height="16.0" fill="#ff0000" stroke="#000" stroke-width="1.15"/>
<line x1="565.5" y1="488.0" x2="565.5" y2="529.8" stroke="#000" stroke-width="1.15"/>
<rect x="560.6" y="498.2" width="9.8" height="17.2" fill="#ff0000" stroke="#000" stroke-width="1.15"/>
<line x1="581.5" y1="465.1" x2="581.5" y2="493.5" stroke="#000" stroke-width="1.15"/>
<rect x="576.6" y="477.3" width="9.8" height="8.0" fill="#ff0000" stroke="#000" stroke-width="1.15"/>
<line x1="597.5" y1="454.9" x2="597.5" y2="529.8" stroke="#000" stroke-width="1.15"/>
<rect x="592.6" y="469.4" width="9.8" height="6.9" fill="#ff0000" stroke="#000" stroke-width="1.15"/>
<line x1="613.5" y1="444.0" x2="613.5" y2="536.5" stroke="#000" stroke-width="1.15"/>
<rect x="608.6" y="468.4" width="9.8" height="51.9" fill="#00ff00" stroke="#000" stroke-width="1.15"/>
<line x1="629.5" y1="480.0" x2="629.5" y2="533.5" stroke="#000" stroke-width="1.15"/>
<rect x="624.6" y="493.2" width="9.8" height="27.1" fill="#ff0000" stroke="#000" stroke-width="1.15"/>
<line x1="645.5" y1="472.1" x2="645.5" y2="539.5" stroke="#000" stroke-width="1.15"/>
<rect x="640.6" y="493.2" width="9.8" height="22.2" fill="#00ff00" stroke="#000" stroke-width="1.15"/>
<line x1="661.5" y1="490.0" x2="661.5" y2="524.6" stroke="#000" stroke-width="1.15"/>
<rect x="656.6" y="493.2" width="9.8" height="22.2" fill="#ff0000" stroke="#000" stroke-width="1.15"/>
<line x1="677.5" y1="458.2" x2="677.5" y2="496.7" stroke="#000" stroke-width="1.15"/>
<rect x="672.6" y="464.4" width="9.8" height="29.1" fill="#ff0000" stroke="#000" stroke-width="1.15"/>
<line x1="693.5" y1="357.9" x2="693.5" y2="479.6" stroke="#000" stroke-width="1.15"/>
<rect x="688.6" y="367.4" width="9.8" height="97.0" fill="#ff0000" stroke="#000" stroke-width="1.15"/>
<line x1="709.5" y1="358.9" x2="709.5" y2="402.7" stroke="#000" stroke-width="1.15"/>
<rect x="704.6" y="367.4" width="9.8" height="31.1" fill="#00ff00" stroke="#000" stroke-width="1.15"/>
<line x1="725.5" y1="391.0" x2="725.5" y2="435.5" stroke="#000" stroke-width="1.15"/>
<line x1="720.0" y1="399.7" x2="731.0" y2="399.7" stroke="#000" stroke-width="1.6"/>
<line x1="741.5" y1="312.0" x2="741.5" y2="421.6" stroke="#000" stroke-width="1.15"/>
<rect x="736.6" y="319.3" width="9.8" height="81.9" fill="#ff0000" stroke="#000" stroke-width="1.15"/>
<line x1="757.5" y1="312.0" x2="757.5" y2="353.6" stroke="#000" stroke-width="1.15"/>
<rect x="752.6" y="319.3" width="9.8" height="5.2" fill="#00ff00" stroke="#000" stroke-width="1.15"/>
<line x1="773.5" y1="314.0" x2="773.5" y2="342.6" stroke="#000" stroke-width="1.15"/>
<line x1="768.0" y1="325.5" x2="779.0" y2="325.5" stroke="#000" stroke-width="1.6"/>
<line x1="789.5" y1="303.1" x2="789.5" y2="380.7" stroke="#000" stroke-width="1.15"/>
<rect x="784.6" y="324.5" width="9.8" height="25.8" fill="#00ff00" stroke="#000" stroke-width="1.15"/>
<line x1="805.5" y1="330.9" x2="805.5" y2="430.7" stroke="#000" stroke-width="1.15"/>
<rect x="800.6" y="350.3" width="9.8" height="74.0" fill="#00ff00" stroke="#000" stroke-width="1.15"/>
<line x1="821.5" y1="388.9" x2="821.5" y2="457.6" stroke="#000" stroke-width="1.15"/>
<rect x="816.6" y="413.3" width="9.8" height="11.0" fill="#ff0000" stroke="#000" stroke-width="1.15"/>
<line x1="837.5" y1="330.9" x2="837.5" y2="446.6" stroke="#000" stroke-width="1.15"/>
<rect x="832.6" y="405.3" width="9.8" height="7.1" fill="#ff0000" stroke="#000" stroke-width="1.15"/>
<line x1="853.5" y1="387.9" x2="853.5" y2="416.6" stroke="#000" stroke-width="1.15"/>
<rect x="848.6" y="402.3" width="9.8" height="3.0" fill="#ff0000" stroke="#000" stroke-width="1.15"/>
<line x1="869.5" y1="380.9" x2="869.5" y2="407.6" stroke="#000" stroke-width="1.15"/>
<rect x="864.6" y="397.4" width="9.8" height="4.9" fill="#ff0000" stroke="#000" stroke-width="1.15"/>
<line x1="885.5" y1="392.0" x2="885.5" y2="457.6" stroke="#000" stroke-width="1.15"/>
<rect x="880.6" y="397.4" width="9.8" height="6.9" fill="#00ff00" stroke="#000" stroke-width="1.15"/>
<line x1="901.5" y1="297.1" x2="901.5" y2="409.6" stroke="#000" stroke-width="1.15"/>
<rect x="896.6" y="306.3" width="9.8" height="97.0" fill="#ff0000" stroke="#000" stroke-width="1.15"/>
<line x1="917.5" y1="287.9" x2="917.5" y2="364.8" stroke="#000" stroke-width="1.15"/>
<rect x="912.6" y="306.3" width="9.8" height="44.0" fill="#00ff00" stroke="#000" stroke-width="1.15"/>
<line x1="933.5" y1="312.0" x2="933.5" y2="379.5" stroke="#000" stroke-width="1.15"/>
<rect x="928.6" y="342.4" width="9.8" height="7.9" fill="#ff0000" stroke="#000" stroke-width="1.15"/>
<line x1="949.5" y1="306.3" x2="949.5" y2="352.6" stroke="#000" stroke-width="1.15"/>
<rect x="944.6" y="309.3" width="9.8" height="33.1" fill="#ff0000" stroke="#000" stroke-width="1.15"/>
<line x1="965.5" y1="286.9" x2="965.5" y2="322.5" stroke="#000" stroke-width="1.15"/>
<rect x="960.6" y="297.4" width="9.8" height="12.9" fill="#ff0000" stroke="#000" stroke-width="1.15"/>
<line x1="981.5" y1="230.2" x2="981.5" y2="302.6" stroke="#000" stroke-width="1.15"/>
<rect x="976.6" y="285.4" width="9.8" height="12.0" fill="#ff0000" stroke="#000" stroke-width="1.15"/>
<line x1="997.5" y1="279.2" x2="997.5" y2="419.6" stroke="#000" stroke-width="1.15"/>
<rect x="992.6" y="285.4" width="9.8" height="116.9" fill="#00ff00" stroke="#000" stroke-width="1.15"/>
<line x1="1013.5" y1="346.1" x2="1013.5" y2="431.7" stroke="#000" stroke-width="1.15"/>
<rect x="1008.6" y="384.3" width="9.8" height="18.0" fill="#ff0000" stroke="#000" stroke-width="1.15"/>
<line x1="1029.5" y1="287.9" x2="1029.5" y2="411.5" stroke="#000" stroke-width="1.15"/>
<rect x="1024.6" y="332.4" width="9.8" height="51.9" fill="#ff0000" stroke="#000" stroke-width="1.15"/>
<line x1="1045.5" y1="333.4" x2="1045.5" y2="407.6" stroke="#000" stroke-width="1.15"/>
<rect x="1040.6" y="333.4" width="9.8" height="62.8" fill="#00ff00" stroke="#000" stroke-width="1.15"/>
<line x1="1061.5" y1="402.3" x2="1061.5" y2="474.7" stroke="#000" stroke-width="1.15"/>
<rect x="1056.6" y="402.3" width="9.8" height="64.0" fill="#00ff00" stroke="#000" stroke-width="1.15"/>
<line x1="1077.5" y1="395.0" x2="1077.5" y2="488.7" stroke="#000" stroke-width="1.15"/>
<rect x="1072.6" y="452.3" width="9.8" height="14.0" fill="#ff0000" stroke="#000" stroke-width="1.15"/>
<line x1="1093.5" y1="352.1" x2="1093.5" y2="468.8" stroke="#000" stroke-width="1.15"/>
<rect x="1088.6" y="355.3" width="9.8" height="97.0" fill="#ff0000" stroke="#000" stroke-width="1.15"/>
<line x1="1109.5" y1="156.0" x2="1109.5" y2="368.8" stroke="#000" stroke-width="1.15"/>
<rect x="1104.6" y="157.2" width="9.8" height="198.1" fill="#ff0000" stroke="#000" stroke-width="1.15"/>
<line x1="1125.5" y1="82.0" x2="1125.5" y2="178.7" stroke="#000" stroke-width="1.15"/>
<rect x="1120.6" y="97.2" width="9.8" height="60.2" fill="#ff0000" stroke="#000" stroke-width="1.15"/>
<line x1="1141.5" y1="75.0" x2="1141.5" y2="123.8" stroke="#000" stroke-width="1.15"/>
<rect x="1136.6" y="78.1" width="9.8" height="18.4" fill="#ff0000" stroke="#000" stroke-width="1.15"/>
<line x1="1157.5" y1="65.1" x2="1157.5" y2="96.8" stroke="#000" stroke-width="1.15"/>
<rect x="1152.6" y="77.3" width="9.8" height="9.1" fill="#00ff00" stroke="#000" stroke-width="1.15"/>
<line x1="1173.5" y1="65.1" x2="1173.5" y2="124.8" stroke="#000" stroke-width="1.15"/>
<rect x="1168.6" y="86.1" width="9.8" height="20.4" fill="#00ff00" stroke="#000" stroke-width="1.15"/>
<line x1="1189.5" y1="79.1" x2="1189.5" y2="217.7" stroke="#000" stroke-width="1.15"/>
<rect x="1184.6" y="105.0" width="9.8" height="72.4" fill="#00ff00" stroke="#000" stroke-width="1.15"/>
<line x1="1205.5" y1="164.9" x2="1205.5" y2="238.7" stroke="#000" stroke-width="1.15"/>
<rect x="1200.6" y="177.4" width="9.8" height="18.0" fill="#00ff00" stroke="#000" stroke-width="1.15"/>
<line x1="1221.5" y1="164.9" x2="1221.5" y2="281.9" stroke="#000" stroke-width="1.15"/>
<rect x="1216.6" y="195.3" width="9.8" height="21.2" fill="#00ff00" stroke="#000" stroke-width="1.15"/>
<line x1="1237.5" y1="192.5" x2="1237.5" y2="241.7" stroke="#000" stroke-width="1.15"/>
<rect x="1232.6" y="192.5" width="9.8" height="25.0" fill="#ff0000" stroke="#000" stroke-width="1.15"/>
<line x1="1253.5" y1="183.2" x2="1253.5" y2="194.8" stroke="#000" stroke-width="1.15"/>
<rect x="1248.6" y="185.5" width="9.8" height="8.1" fill="#ff0000" stroke="#000" stroke-width="1.15"/>
<line x1="5" y1="185.4" x2="1617" y2="185.4" stroke="#000" stroke-width="1.1"/>
<line x1="5" y1="105.0" x2="1617" y2="105.0" stroke="#ff0000" stroke-width="2.1"/>
<rect x="5.5" y="103.0" width="4" height="4" fill="#fff" stroke="#ff0000" stroke-width="1.6"/>
<rect x="1612" y="103.0" width="4" height="4" fill="#fff" stroke="#ff0000" stroke-width="1.6"/>
<line x1="5" y1="137.8" x2="1617" y2="137.8" stroke="#ff0000" stroke-width="2.1"/>
<rect x="5.5" y="135.8" width="4" height="4" fill="#fff" stroke="#ff0000" stroke-width="1.6"/>
<rect x="1612" y="135.8" width="4" height="4" fill="#fff" stroke="#ff0000" stroke-width="1.6"/>
<line x1="5" y1="166.8" x2="1617" y2="166.8" stroke="#ff8800" stroke-width="2.1"/>
<rect x="5.5" y="164.8" width="4" height="4" fill="#fff" stroke="#ff8800" stroke-width="1.6"/>
<rect x="1612" y="164.8" width="4" height="4" fill="#fff" stroke="#ff8800" stroke-width="1.6"/>
<line x1="5" y1="213.8" x2="1617" y2="213.8" stroke="#0000ff" stroke-width="2.1"/>
<rect x="5.5" y="211.8" width="4" height="4" fill="#fff" stroke="#0000ff" stroke-width="1.6"/>
<rect x="1612" y="211.8" width="4" height="4" fill="#fff" stroke="#0000ff" stroke-width="1.6"/>
<line x1="5" y1="242.9" x2="1617" y2="242.9" stroke="#0000ff" stroke-width="2.1"/>
<rect x="5.5" y="240.9" width="4" height="4" fill="#fff" stroke="#0000ff" stroke-width="1.6"/>
<rect x="1612" y="240.9" width="4" height="4" fill="#fff" stroke="#0000ff" stroke-width="1.6"/>
<line x1="1218.3" y1="68.3" x2="1283" y2="129.5" stroke="#4e9a2e" stroke-width="3"/>
<path d="M1293 139 L1274.8 133.6 L1286.8 121.2 Z" fill="#4e9a2e"/>
</g>
<rect x="1619.2" y="99.1" width="40.8" height="10.7" fill="#ff0000"/>
<text x="1623.2" y="108" font-size="10.2" fill="#fff" stroke="#fff" stroke-width="0.2" text-rendering="geometricPrecision" textLength="32.9" lengthAdjust="spacingAndGlyphs" >0.67818</text>
<rect x="1619.2" y="132.2" width="40.8" height="10.7" fill="#ff0000"/>
<text x="1623.2" y="141" font-size="10.2" fill="#fff" stroke="#fff" stroke-width="0.2" text-rendering="geometricPrecision" textLength="32.9" lengthAdjust="spacingAndGlyphs" >0.67709</text>
<rect x="1619.2" y="160.9" width="40.8" height="10.7" fill="#ff8800"/>
<text x="1623.2" y="170" font-size="10.2" fill="#fff" stroke="#fff" stroke-width="0.2" text-rendering="geometricPrecision" textLength="32.9" lengthAdjust="spacingAndGlyphs" >0.67609</text>
<rect x="1619.2" y="180.0" width="40.8" height="10.7" fill="#000000"/>
<text x="1623.2" y="189" font-size="10.2" fill="#fff" stroke="#fff" stroke-width="0.2" text-rendering="geometricPrecision" textLength="32.9" lengthAdjust="spacingAndGlyphs" >0.67550</text>
<rect x="1619.2" y="208.2" width="40.8" height="10.7" fill="#0000ff"/>
<text x="1623.2" y="217" font-size="10.2" fill="#fff" stroke="#fff" stroke-width="0.2" text-rendering="geometricPrecision" textLength="32.9" lengthAdjust="spacingAndGlyphs" >0.67452</text>
<rect x="1619.2" y="236.9" width="40.8" height="10.7" fill="#0000ff"/>
<text x="1623.2" y="246" font-size="10.2" fill="#fff" stroke="#fff" stroke-width="0.2" text-rendering="geometricPrecision" textLength="32.9" lengthAdjust="spacingAndGlyphs" >0.67355</text>
<path d="M7.9 33 L15.1 33 L11.5 37.1 Z" fill="#000"/>
<text x="20.6" y="38" font-size="10.2" fill="#000" stroke="#000" stroke-width="0.2" text-rendering="geometricPrecision" textLength="58.2" lengthAdjust="spacingAndGlyphs" >AUDUSD-,H4</text>
<text x="85" y="38" font-size="10.2" fill="#000" stroke="#000" stroke-width="0.2" text-rendering="geometricPrecision" textLength="140.8" lengthAdjust="spacingAndGlyphs" >0.67525 0.67556 0.67519 0.67550</text>
<g>
<rect x="4" y="666.3" width="3" height="3.7" fill="#00ff00"/>
<rect x="20" y="653.0" width="3" height="17.0" fill="#00ff00"/>
<rect x="36" y="641.1" width="3" height="28.9" fill="#00ff00"/>
<rect x="52" y="637.2" width="3" height="32.8" fill="#00ff00"/>
<rect x="68" y="637.2" width="3" height="32.8" fill="#00ff00"/>
<rect x="84" y="630.2" width="3" height="39.8" fill="#00ff00"/>
<rect x="100" y="624.1" width="3" height="45.9" fill="#00ff00"/>
<rect x="116" y="626.1" width="3" height="43.9" fill="#00ff00"/>
<rect x="132" y="628.1" width="3" height="41.9" fill="#00ff00"/>
<rect x="148" y="629.0" width="3" height="41.0" fill="#00ff00"/>
<rect x="164" y="626.1" width="3" height="43.9" fill="#00ff00"/>
<rect x="180" y="623.1" width="3" height="46.9" fill="#00ff00"/>
<rect x="196" y="621.1" width="3" height="48.9" fill="#00ff00"/>
<rect x="212" y="625.1" width="3" height="44.9" fill="#00ff00"/>
<rect x="228" y="631.0" width="3" height="39.0" fill="#00ff00"/>
<rect x="244" y="637.2" width="3" height="32.8" fill="#00ff00"/>
<rect x="260" y="650.1" width="3" height="19.9" fill="#00ff00"/>
<rect x="276" y="656.0" width="3" height="14.0" fill="#00ff00"/>
<rect x="292" y="659.0" width="3" height="11.0" fill="#00ff00"/>
<rect x="308" y="658.0" width="3" height="12.0" fill="#00ff00"/>
<rect x="324" y="656.0" width="3" height="14.0" fill="#00ff00"/>
<rect x="340" y="657.0" width="3" height="13.0" fill="#00ff00"/>
<rect x="356" y="659.0" width="3" height="11.0" fill="#00ff00"/>
<rect x="372" y="659.0" width="3" height="11.0" fill="#00ff00"/>
<rect x="388" y="658.0" width="3" height="12.0" fill="#00ff00"/>
<rect x="404" y="648.1" width="3" height="21.9" fill="#00ff00"/>
<rect x="420" y="640.1" width="3" height="29.9" fill="#00ff00"/>
<rect x="436" y="637.2" width="3" height="32.8" fill="#00ff00"/>
<rect x="452" y="636.2" width="3" height="33.8" fill="#00ff00"/>
<rect x="468" y="644.1" width="3" height="25.9" fill="#00ff00"/>
<rect x="484" y="651.0" width="3" height="19.0" fill="#00ff00"/>
<rect x="500" y="656.0" width="3" height="14.0" fill="#00ff00"/>
<rect x="516" y="659.0" width="3" height="11.0" fill="#00ff00"/>
<rect x="532" y="670.0" width="3" height="4.8" fill="#00ff00"/>
<rect x="548" y="670.0" width="3" height="15.7" fill="#00ff00"/>
<rect x="564" y="670.0" width="3" height="21.7" fill="#00ff00"/>
<rect x="580" y="670.0" width="3" height="25.6" fill="#00ff00"/>
<rect x="596" y="670.0" width="3" height="26.6" fill="#00ff00"/>
<rect x="612" y="670.0" width="3" height="31.6" fill="#00ff00"/>
<rect x="628" y="670.0" width="3" height="33.6" fill="#00ff00"/>
<rect x="644" y="670.0" width="3" height="35.6" fill="#00ff00"/>
<rect x="660" y="670.0" width="3" height="35.6" fill="#00ff00"/>
<rect x="676" y="670.0" width="3" height="32.6" fill="#00ff00"/>
<rect x="692" y="670.0" width="3" height="22.7" fill="#00ff00"/>
<rect x="708" y="670.0" width="3" height="16.7" fill="#00ff00"/>
<rect x="724" y="670.0" width="3" height="11.8" fill="#00ff00"/>
<rect x="740" y="670.0" width="3" height="1.7" fill="#00ff00"/>
<rect x="756" y="662.9" width="3" height="7.1" fill="#00ff00"/>
<rect x="772" y="657.0" width="3" height="13.0" fill="#00ff00"/>
<rect x="788" y="654.0" width="3" height="16.0" fill="#00ff00"/>
<rect x="804" y="659.0" width="3" height="11.0" fill="#00ff00"/>
<rect x="820" y="661.0" width="3" height="9.0" fill="#00ff00"/>
<rect x="836" y="662.9" width="3" height="7.1" fill="#00ff00"/>
<rect x="852" y="664.9" width="3" height="5.1" fill="#00ff00"/>
<rect x="868" y="663.9" width="3" height="6.1" fill="#00ff00"/>
<rect x="884" y="664.9" width="3" height="5.1" fill="#00ff00"/>
<rect x="900" y="658.0" width="3" height="12.0" fill="#00ff00"/>
<rect x="916" y="656.0" width="3" height="14.0" fill="#00ff00"/>
<rect x="932" y="654.0" width="3" height="16.0" fill="#00ff00"/>
<rect x="948" y="650.1" width="3" height="19.9" fill="#00ff00"/>
<rect x="964" y="646.1" width="3" height="23.9" fill="#00ff00"/>
<rect x="980" y="642.1" width="3" height="27.9" fill="#00ff00"/>
<rect x="996" y="649.1" width="3" height="20.9" fill="#00ff00"/>
<rect x="1012" y="654.0" width="3" height="16.0" fill="#00ff00"/>
<rect x="1028" y="652.0" width="3" height="18.0" fill="#00ff00"/>
<rect x="1044" y="657.0" width="3" height="13.0" fill="#00ff00"/>
<rect x="1060" y="666.9" width="3" height="3.1" fill="#00ff00"/>
<rect x="1076" y="670.0" width="3" height="3.8" fill="#00ff00"/>
<rect x="1092" y="670.0" width="3" height="1.0" fill="#00ff00"/>
<rect x="1108" y="652.0" width="3" height="18.0" fill="#00ff00"/>
<rect x="1124" y="633.2" width="3" height="36.8" fill="#00ff00"/>
<rect x="1140" y="617.2" width="3" height="52.8" fill="#00ff00"/>
<rect x="1156" y="604.9" width="3" height="65.1" fill="#00ff00"/>
<rect x="1172" y="598.9" width="3" height="71.1" fill="#00ff00"/>
<rect x="1188" y="599.9" width="3" height="70.1" fill="#00ff00"/>
<rect x="1204" y="603.9" width="3" height="66.1" fill="#00ff00"/>
<rect x="1220" y="609.0" width="3" height="61.0" fill="#00ff00"/>
<rect x="1236" y="612.0" width="3" height="58.0" fill="#00ff00"/>
<rect x="1252" y="614.0" width="3" height="56.0" fill="#00ff00"/>
<polyline points="5.5,671.3 21.5,670.7 37.5,667.7 53.5,663.7 69.5,658.8 85.5,653.4 101.5,648.5 117.5,642.5 133.5,638.2 149.5,634.2 165.5,631.2 181.5,629.2 197.5,627.3 213.5,626.7 229.5,626.3 245.5,627.3 261.5,630.2 277.5,633.2 293.5,637.2 309.5,640.1 325.5,644.5 341.5,648.5 357.5,652.4 373.5,655.4 389.5,657.0 405.5,657.0 421.5,655.4 437.5,652.4 453.5,650.5 469.5,648.5 485.5,648.1 501.5,647.9 517.5,647.3 533.5,649.1 549.5,653.4 565.5,659.4 581.5,666.3 597.5,672.9 613.5,679.8 629.5,686.1 645.5,690.7 661.5,695.6 677.5,698.6 693.5,698.8 709.5,698.6 725.5,697.6 741.5,694.1 757.5,690.1 773.5,685.1 789.5,679.2 805.5,674.2 821.5,669.3 837.5,666.3 853.5,664.3 869.5,662.0 885.5,661.0 901.5,660.0 917.5,660.0 933.5,660.0 949.5,659.4 965.5,658.2 981.5,655.0 997.5,654.4 1013.5,653.4 1029.5,651.4 1045.5,651.4 1061.5,652.6 1077.5,654.4 1093.5,657.0 1109.5,657.0 1125.5,656.4 1141.5,653.4 1157.5,647.5 1173.5,641.5 1189.5,635.6 1205.5,628.7 1221.5,621.7 1237.5,614.4 1253.5,610.8" fill="none" stroke="#ff0000" stroke-width="2" stroke-linejoin="round"/>
</g>
<text x="9.6" y="605" font-size="10.2" fill="#000" stroke="#000" stroke-width="0.2" text-rendering="geometricPrecision" textLength="147" lengthAdjust="spacingAndGlyphs" >MACD(12,26,9) 0.001841 0.001961</text>
<line x1="1617" y1="594.3" x2="1619.2" y2="594.3" stroke="#000" stroke-width="1.15"/>
<text x="1621.2" y="603" font-size="10.2" fill="#000" stroke="#000" stroke-width="0.2" text-rendering="geometricPrecision" textLength="38" lengthAdjust="spacingAndGlyphs" >0.002513</text>
<line x1="1617" y1="670.4" x2="1619.2" y2="670.4" stroke="#000" stroke-width="1.15"/>
<text x="1621.2" y="674" font-size="10.2" fill="#000" stroke="#000" stroke-width="0.2" text-rendering="geometricPrecision" textLength="17.8" lengthAdjust="spacingAndGlyphs" >0.00</text>
<line x1="1617" y1="710.3" x2="1619.2" y2="710.3" stroke="#000" stroke-width="1.15"/>
<text x="1621.2" y="708" font-size="10.2" fill="#000" stroke="#000" stroke-width="0.2" text-rendering="geometricPrecision" textLength="36.1" lengthAdjust="spacingAndGlyphs" >-0.00135</text>
<line x1="6" y1="736.3" x2="1617" y2="736.3" stroke="#000" stroke-width="1.1" stroke-dasharray="3 3"/>
<line x1="6" y1="767.5" x2="1617" y2="767.5" stroke="#000" stroke-width="1.1" stroke-dasharray="3 3"/>
<line x1="6" y1="805.3" x2="1617" y2="805.3" stroke="#000" stroke-width="1.1" stroke-dasharray="3 3"/>
<polyline points="5.5,764.1 21.5,755.0 37.5,755.0 53.5,759.6 69.5,762.1 85.5,756.2 101.5,756.2 117.5,762.5 133.5,762.9 149.5,761.5 165.5,758.2 181.5,756.8 197.5,756.8 213.5,764.1 229.5,766.5 245.5,768.1 261.5,776.0 277.5,771.1 293.5,768.1 309.5,764.1 325.5,764.1 341.5,766.1 357.5,766.1 373.5,766.1 389.5,762.5 405.5,754.0 421.5,752.8 437.5,758.6 453.5,758.6 469.5,770.7 485.5,770.7 501.5,770.7 517.5,769.5 533.5,781.8 549.5,780.4 565.5,778.4 581.5,776.0 597.5,776.0 613.5,779.0 629.5,777.0 645.5,778.0 661.5,774.4 677.5,771.4 693.5,761.9 709.5,764.9 725.5,764.9 741.5,757.8 757.5,757.8 773.5,757.8 789.5,761.1 805.5,769.5 821.5,769.5 837.5,768.1 853.5,767.7 869.5,767.1 885.5,768.1 901.5,756.8 917.5,761.9 933.5,761.5 949.5,758.2 965.5,756.2 981.5,756.2 997.5,770.9 1013.5,769.7 1029.5,763.5 1045.5,770.1 1061.5,777.0 1077.5,776.0 1093.5,766.1 1109.5,751.0 1125.5,747.9 1141.5,747.7 1157.5,747.7 1173.5,751.2 1189.5,758.6 1205.5,760.5 1221.5,761.9 1237.5,760.1 1253.5,759.9" fill="none" stroke="#1e90ff" stroke-width="2" stroke-linejoin="round"/>
<text x="9.6" y="726" font-size="10.2" fill="#000" stroke="#000" stroke-width="0.2" text-rendering="geometricPrecision" textLength="67.2" lengthAdjust="spacingAndGlyphs" >RSI(14) 57.6012</text>
<text x="1621.7" y="724" font-size="10.2" fill="#000" stroke="#000" stroke-width="0.2" text-rendering="geometricPrecision" textLength="14.4" lengthAdjust="spacingAndGlyphs" >100</text>
<text x="1620.3" y="740" font-size="10.2" fill="#000" stroke="#000" stroke-width="0.2" text-rendering="geometricPrecision" textLength="10" lengthAdjust="spacingAndGlyphs" >80</text>
<text x="1620.3" y="771" font-size="10.2" fill="#000" stroke="#000" stroke-width="0.2" text-rendering="geometricPrecision" textLength="10" lengthAdjust="spacingAndGlyphs" >50</text>
<text x="1620.3" y="809" font-size="10.2" fill="#000" stroke="#000" stroke-width="0.2" text-rendering="geometricPrecision" textLength="10" lengthAdjust="spacingAndGlyphs" >15</text>
<text x="1621.6" y="818" font-size="10.2" fill="#000" stroke="#000" stroke-width="0.2" text-rendering="geometricPrecision" textLength="4.8" lengthAdjust="spacingAndGlyphs" >0</text>
<line x1="1617" y1="715.2" x2="1619.2" y2="715.2" stroke="#000" stroke-width="1.15"/>
<line x1="5.5" y1="821" x2="5.5" y2="825.6" stroke="#000" stroke-width="1.15"/>
<text x="4.2" y="834" font-size="10.2" fill="#000" stroke="#000" stroke-width="0.2" text-rendering="geometricPrecision" textLength="52.2" lengthAdjust="spacingAndGlyphs" >16 Mar 2023</text>
<line x1="69.5" y1="821" x2="69.5" y2="825.6" stroke="#000" stroke-width="1.15"/>
<text x="68.2" y="834" font-size="10.2" fill="#000" stroke="#000" stroke-width="0.2" text-rendering="geometricPrecision" textLength="54.8" lengthAdjust="spacingAndGlyphs" >17 Mar 12:00</text>
<line x1="133.5" y1="821" x2="133.5" y2="825.6" stroke="#000" stroke-width="1.15"/>
<text x="132.2" y="834" font-size="10.2" fill="#000" stroke="#000" stroke-width="0.2" text-rendering="geometricPrecision" textLength="54.8" lengthAdjust="spacingAndGlyphs" >20 Mar 04:00</text>
<line x1="197.5" y1="821" x2="197.5" y2="825.6" stroke="#000" stroke-width="1.15"/>
<text x="196.2" y="834" font-size="10.2" fill="#000" stroke="#000" stroke-width="0.2" text-rendering="geometricPrecision" textLength="54.8" lengthAdjust="spacingAndGlyphs" >20 Mar 20:00</text>
<line x1="261.5" y1="821" x2="261.5" y2="825.6" stroke="#000" stroke-width="1.15"/>
<text x="260.2" y="834" font-size="10.2" fill="#000" stroke="#000" stroke-width="0.2" text-rendering="geometricPrecision" textLength="54.8" lengthAdjust="spacingAndGlyphs" >21 Mar 12:00</text>
<line x1="325.5" y1="821" x2="325.5" y2="825.6" stroke="#000" stroke-width="1.15"/>
<text x="324.2" y="834" font-size="10.2" fill="#000" stroke="#000" stroke-width="0.2" text-rendering="geometricPrecision" textLength="54.8" lengthAdjust="spacingAndGlyphs" >22 Mar 04:00</text>
<line x1="389.5" y1="821" x2="389.5" y2="825.6" stroke="#000" stroke-width="1.15"/>
<text x="388.2" y="834" font-size="10.2" fill="#000" stroke="#000" stroke-width="0.2" text-rendering="geometricPrecision" textLength="54.8" lengthAdjust="spacingAndGlyphs" >22 Mar 20:00</text>
<line x1="453.5" y1="821" x2="453.5" y2="825.6" stroke="#000" stroke-width="1.15"/>
<text x="452.2" y="834" font-size="10.2" fill="#000" stroke="#000" stroke-width="0.2" text-rendering="geometricPrecision" textLength="54.8" lengthAdjust="spacingAndGlyphs" >23 Mar 12:00</text>
<line x1="517.5" y1="821" x2="517.5" y2="825.6" stroke="#000" stroke-width="1.15"/>
<text x="516.2" y="834" font-size="10.2" fill="#000" stroke="#000" stroke-width="0.2" text-rendering="geometricPrecision" textLength="54.8" lengthAdjust="spacingAndGlyphs" >24 Mar 04:00</text>
<line x1="581.5" y1="821" x2="581.5" y2="825.6" stroke="#000" stroke-width="1.15"/>
<text x="580.2" y="834" font-size="10.2" fill="#000" stroke="#000" stroke-width="0.2" text-rendering="geometricPrecision" textLength="54.8" lengthAdjust="spacingAndGlyphs" >26 Mar 23:00</text>
<line x1="645.5" y1="821" x2="645.5" y2="825.6" stroke="#000" stroke-width="1.15"/>
<text x="644.2" y="834" font-size="10.2" fill="#000" stroke="#000" stroke-width="0.2" text-rendering="geometricPrecision" textLength="54.8" lengthAdjust="spacingAndGlyphs" >27 Mar 12:00</text>
<line x1="709.5" y1="821" x2="709.5" y2="825.6" stroke="#000" stroke-width="1.15"/>
<text x="708.2" y="834" font-size="10.2" fill="#000" stroke="#000" stroke-width="0.2" text-rendering="geometricPrecision" textLength="54.8" lengthAdjust="spacingAndGlyphs" >28 Mar 04:00</text>
<line x1="773.5" y1="821" x2="773.5" y2="825.6" stroke="#000" stroke-width="1.15"/>
<text x="772.2" y="834" font-size="10.2" fill="#000" stroke="#000" stroke-width="0.2" text-rendering="geometricPrecision" textLength="54.8" lengthAdjust="spacingAndGlyphs" >28 Mar 20:00</text>
<line x1="837.5" y1="821" x2="837.5" y2="825.6" stroke="#000" stroke-width="1.15"/>
<text x="836.2" y="834" font-size="10.2" fill="#000" stroke="#000" stroke-width="0.2" text-rendering="geometricPrecision" textLength="54.8" lengthAdjust="spacingAndGlyphs" >29 Mar 12:00</text>
<line x1="901.5" y1="821" x2="901.5" y2="825.6" stroke="#000" stroke-width="1.15"/>
<text x="900.2" y="834" font-size="10.2" fill="#000" stroke="#000" stroke-width="0.2" text-rendering="geometricPrecision" textLength="54.8" lengthAdjust="spacingAndGlyphs" >30 Mar 04:00</text>
<line x1="965.5" y1="821" x2="965.5" y2="825.6" stroke="#000" stroke-width="1.15"/>
<text x="964.2" y="834" font-size="10.2" fill="#000" stroke="#000" stroke-width="0.2" text-rendering="geometricPrecision" textLength="54.8" lengthAdjust="spacingAndGlyphs" >30 Mar 20:00</text>
<line x1="1029.5" y1="821" x2="1029.5" y2="825.6" stroke="#000" stroke-width="1.15"/>
<text x="1028.2" y="834" font-size="10.2" fill="#000" stroke="#000" stroke-width="0.2" text-rendering="geometricPrecision" textLength="54.8" lengthAdjust="spacingAndGlyphs" >31 Mar 12:00</text>
<line x1="1093.5" y1="821" x2="1093.5" y2="825.6" stroke="#000" stroke-width="1.15"/>
<text x="1092.2" y="834" font-size="10.2" fill="#000" stroke="#000" stroke-width="0.2" text-rendering="geometricPrecision" textLength="48.1" lengthAdjust="spacingAndGlyphs" >3 Apr 04:00</text>
<line x1="1157.5" y1="821" x2="1157.5" y2="825.6" stroke="#000" stroke-width="1.15"/>
<text x="1156.2" y="834" font-size="10.2" fill="#000" stroke="#000" stroke-width="0.2" text-rendering="geometricPrecision" textLength="48.1" lengthAdjust="spacingAndGlyphs" >3 Apr 20:00</text>
<line x1="1221.5" y1="821" x2="1221.5" y2="825.6" stroke="#000" stroke-width="1.15"/>
<text x="1220.2" y="834" font-size="10.2" fill="#000" stroke="#000" stroke-width="0.2" text-rendering="geometricPrecision" textLength="48.1" lengthAdjust="spacingAndGlyphs" >4 Apr 12:00</text>
</svg>
</body></html>
